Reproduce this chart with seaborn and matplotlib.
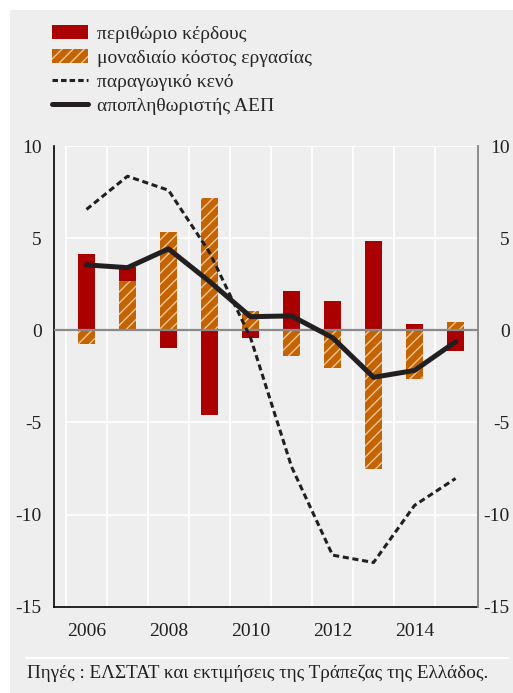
import numpy as np
import pandas as pd
import seaborn as sns
import matplotlib.pyplot as plt
from matplotlib.patches import Patch, Rectangle
from matplotlib.lines import Line2D

# δεδομένα (εκτίμηση από το διάγραμμα)
years = [2006, 2007, 2008, 2009, 2010, 2011, 2012, 2013, 2014, 2015]
profit_margin = [4.16, 0.80, -0.95, -4.60, -0.40, 2.14, 1.60, 4.87, 0.35, -1.13]
unit_labour_cost = [-0.73, 2.65, 5.36, 7.16, 1.05, -1.38, -2.04, -7.55, -2.64, 0.45]
output_gap = [6.56, 8.36, 7.60, 4.23, -0.40, -7.40, -12.20, -12.60, -9.50, -8.04]
gdp_deflator = [3.55, 3.40, 4.42, 2.65, 0.74, 0.78, -0.40, -2.55, -2.18, -0.62]

labels = ['περιθώριο κέρδους', 'μοναδιαίο κόστος εργασίας',
          'παραγωγικό κενό', 'αποπληθωριστής ΑΕΠ']
y_ticks = [-15, -10, -5, 0, 5, 10]
x_labels = [2006, 2008, 2010, 2012, 2014]
source = 'Πηγές : ΕΛΣΤΑΤ και εκτιμήσεις της Τράπεζας της Ελλάδος.'

RED = '#aa0000'
ORANGE = '#c46400'
HATCH = '#f2c69c'
DARK = '#231f20'
BG = '#eeeeee'

df = pd.DataFrame({'year': years, 'margin': profit_margin, 'ulc': unit_labour_cost,
                   'gap': output_gap, 'deflator': gdp_deflator})
# όταν και τα δύο είναι θετικά, το περιθώριο στοιβάζεται πάνω από το κόστος
both_pos = (df['margin'] > 0) & (df['ulc'] > 0)
df['margin_top'] = df['margin'] + np.where(both_pos, df['ulc'], 0)

sns.set_style('white')
plt.rcParams['font.family'] = ['Liberation Serif', 'DejaVu Serif']
plt.rcParams['axes.unicode_minus'] = False
plt.rcParams['hatch.linewidth'] = 1.0

fig = plt.figure(figsize=(5.13, 6.93), dpi=100)
fig.patches.append(Rectangle((10 / 513, 0), 1, 1 - 10 / 693, transform=fig.transFigure,
                             facecolor=BG, edgecolor='none', zorder=-10))
ax = fig.add_axes([0.1058, 0.1245, 0.8254, 0.6648])
ax.set_facecolor(BG)

sns.barplot(data=df, x='year', y='margin_top', native_scale=True, color=RED, saturation=1,
            width=0.42, errorbar=None, linewidth=0, ax=ax, zorder=2)
sns.barplot(data=df, x='year', y='ulc', native_scale=True, color=ORANGE, saturation=1,
            width=0.43, errorbar=None, hatch='///', edgecolor=HATCH, linewidth=0, ax=ax, zorder=2)
sns.lineplot(data=df, x='year', y='gap', color=DARK, lw=2.2, linestyle=(0, (2.0, 1.2)),
             ax=ax, zorder=4)
sns.lineplot(data=df, x='year', y='deflator', color=DARK, lw=3.6, ax=ax, zorder=4)

xmin, xmax = 2005.215, 2015.54
ax.set_xlim(xmin, xmax)
ax.set_ylim(-15, 10)

# πλέγμα
for yv in y_ticks:
    if yv == 0:
        continue
    ax.hlines(yv, 2005.5, xmax, color='white', lw=1.2, zorder=0.5)
for xv in np.arange(2005.5, 2015.0, 1):
    ax.axvline(xv, color='white', lw=1.2, zorder=0.5)
ax.axhline(0, color='#8a8a8a', lw=1.6, zorder=3)

ax.set_xlabel('')
ax.set_ylabel('')
ax.set_xticks(x_labels)
ax.set_xticklabels([str(v) for v in x_labels])
ax.set_xticks([xmin] + list(np.arange(2005.5, 2016.0, 1)), minor=True)
ax.tick_params(axis='x', which='major', length=0, pad=12, labelsize=14, colors='#231f20')
ax.tick_params(axis='x', which='minor', length=7, width=1.2, color='black', direction='out')
ax.set_yticks(y_ticks)
ax.set_yticklabels([str(v) for v in y_ticks])
ax.tick_params(axis='y', length=0, pad=9, labelsize=14, colors='#231f20')

for s in ['top', 'right']:
    ax.spines[s].set_visible(False)
ax.spines['left'].set_color('black')
ax.spines['left'].set_linewidth(1.2)
ax.spines['bottom'].set_color('black')
ax.spines['bottom'].set_linewidth(1.2)

ax2 = ax.twinx()
ax2.set_ylim(-15, 10)
ax2.set_yticks(y_ticks)
ax2.set_yticklabels([str(v) for v in y_ticks])
ax2.tick_params(axis='y', length=0, pad=23, labelsize=14, colors='#231f20')
for t in ax2.get_yticklabels():
    t.set_horizontalalignment('right')
for s in ['top', 'left', 'bottom']:
    ax2.spines[s].set_visible(False)
ax2.spines['right'].set_color('#8a8a8a')
ax2.spines['right'].set_linewidth(1.4)

handles = [Patch(facecolor=RED, edgecolor='none'),
           Patch(facecolor=ORANGE, edgecolor=HATCH, hatch='///', linewidth=0),
           Line2D([], [], color=DARK, lw=2.2, linestyle=(0, (1.8, 1.0))),
           Line2D([], [], color=DARK, lw=3.6)]
fig.legend(handles, labels, loc='upper left', bbox_to_anchor=(52 / 513, 1 - 25 / 693),
           frameon=False, fontsize=14, handlelength=1.85, handletextpad=0.45,
           labelspacing=0.34, borderaxespad=0, borderpad=0)

fig.add_artist(Line2D([26 / 513, 508 / 513], [1 - 658 / 693] * 2, color='white', lw=1.5,
                      transform=fig.transFigure))
fig.text(27 / 513, 1 - 673 / 693, source, ha='left', va='center', fontsize=13.8,
         color='#231f20')

fig.savefig('out.png', dpi=100, facecolor='white')
